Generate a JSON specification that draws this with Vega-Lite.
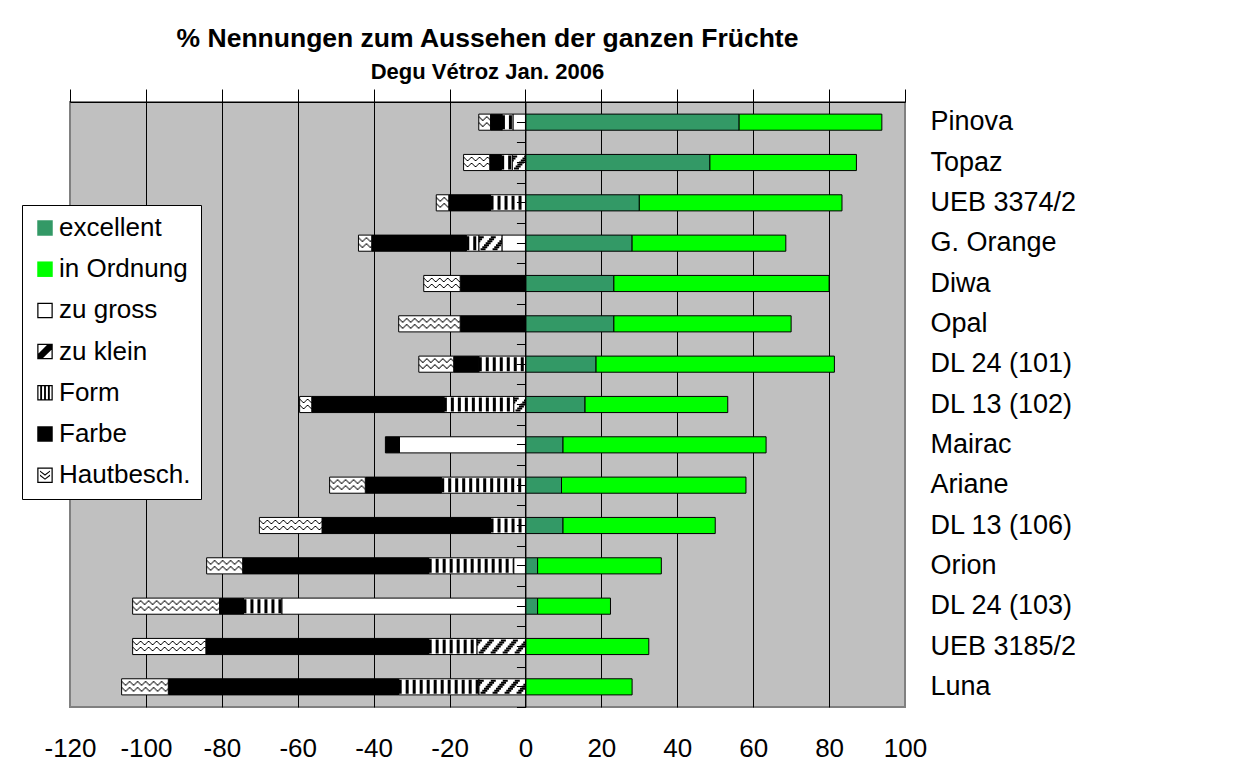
{
  "$schema": "https://vega.github.io/schema/vega-lite/v6.json",
  "width": 835,
  "height": 605,
  "autosize": "none",
  "padding": {"left": 70, "top": 102, "right": 335, "bottom": 69},
  "background": "white",
  "config": {
    "font": "Liberation Sans",
    "view": {"fill": "#C0C0C0", "stroke": "#808080", "strokeWidth": 2}
  },
  "title": {
    "text": "% Nennungen zum Aussehen der ganzen Früchte",
    "subtitle": "Degu Vétroz Jan. 2006",
    "anchor": "middle",
    "frame": "group",
    "font": "Liberation Sans",
    "fontSize": 26.5,
    "fontWeight": "bold",
    "color": "black",
    "subtitleFont": "Liberation Sans",
    "subtitleFontSize": 22,
    "subtitleFontWeight": "bold",
    "subtitleColor": "black",
    "subtitlePadding": 9,
    "offset": 6
  },
  "data": {
    "values": [
      {"variety": "Pinova", "type": "excellent", "o": 1, "v": 56.3},
      {"variety": "Pinova", "type": "in Ordnung", "o": 2, "v": 37.6},
      {"variety": "Pinova", "type": "zu gross", "o": 3, "v": -3.3},
      {"variety": "Pinova", "type": "Form", "o": 5, "v": -2.9},
      {"variety": "Pinova", "type": "Farbe", "o": 6, "v": -3.0},
      {"variety": "Pinova", "type": "Hautbesch.", "o": 7, "v": -3.1},
      {"variety": "Topaz", "type": "excellent", "o": 1, "v": 48.6},
      {"variety": "Topaz", "type": "in Ordnung", "o": 2, "v": 38.6},
      {"variety": "Topaz", "type": "zu klein", "o": 4, "v": -3.5},
      {"variety": "Topaz", "type": "Form", "o": 5, "v": -2.9},
      {"variety": "Topaz", "type": "Farbe", "o": 6, "v": -3.0},
      {"variety": "Topaz", "type": "Hautbesch.", "o": 7, "v": -6.9},
      {"variety": "UEB 3374/2", "type": "excellent", "o": 1, "v": 30.0},
      {"variety": "UEB 3374/2", "type": "in Ordnung", "o": 2, "v": 53.4},
      {"variety": "UEB 3374/2", "type": "Form", "o": 5, "v": -9.2},
      {"variety": "UEB 3374/2", "type": "Farbe", "o": 6, "v": -11.0},
      {"variety": "UEB 3374/2", "type": "Hautbesch.", "o": 7, "v": -3.3},
      {"variety": "G. Orange", "type": "excellent", "o": 1, "v": 28.1},
      {"variety": "G. Orange", "type": "in Ordnung", "o": 2, "v": 40.5},
      {"variety": "G. Orange", "type": "zu gross", "o": 3, "v": -6.2},
      {"variety": "G. Orange", "type": "zu klein", "o": 4, "v": -6.1},
      {"variety": "G. Orange", "type": "Form", "o": 5, "v": -3.3},
      {"variety": "G. Orange", "type": "Farbe", "o": 6, "v": -24.9},
      {"variety": "G. Orange", "type": "Hautbesch.", "o": 7, "v": -3.5},
      {"variety": "Diwa", "type": "excellent", "o": 1, "v": 23.3},
      {"variety": "Diwa", "type": "in Ordnung", "o": 2, "v": 56.7},
      {"variety": "Diwa", "type": "Farbe", "o": 6, "v": -17.2},
      {"variety": "Diwa", "type": "Hautbesch.", "o": 7, "v": -9.6},
      {"variety": "Opal", "type": "excellent", "o": 1, "v": 23.3},
      {"variety": "Opal", "type": "in Ordnung", "o": 2, "v": 46.7},
      {"variety": "Opal", "type": "Farbe", "o": 6, "v": -17.2},
      {"variety": "Opal", "type": "Hautbesch.", "o": 7, "v": -16.2},
      {"variety": "DL 24 (101)", "type": "excellent", "o": 1, "v": 18.6},
      {"variety": "DL 24 (101)", "type": "in Ordnung", "o": 2, "v": 62.8},
      {"variety": "DL 24 (101)", "type": "Form", "o": 5, "v": -12.3},
      {"variety": "DL 24 (101)", "type": "Farbe", "o": 6, "v": -6.6},
      {"variety": "DL 24 (101)", "type": "Hautbesch.", "o": 7, "v": -9.2},
      {"variety": "DL 13 (102)", "type": "excellent", "o": 1, "v": 15.7},
      {"variety": "DL 13 (102)", "type": "in Ordnung", "o": 2, "v": 37.6},
      {"variety": "DL 13 (102)", "type": "zu klein", "o": 4, "v": -3.1},
      {"variety": "DL 13 (102)", "type": "Form", "o": 5, "v": -18.4},
      {"variety": "DL 13 (102)", "type": "Farbe", "o": 6, "v": -34.8},
      {"variety": "DL 13 (102)", "type": "Hautbesch.", "o": 7, "v": -3.2},
      {"variety": "Mairac", "type": "excellent", "o": 1, "v": 9.9},
      {"variety": "Mairac", "type": "in Ordnung", "o": 2, "v": 53.5},
      {"variety": "Mairac", "type": "zu gross", "o": 3, "v": -33.2},
      {"variety": "Mairac", "type": "Farbe", "o": 6, "v": -3.7},
      {"variety": "Ariane", "type": "excellent", "o": 1, "v": 9.5},
      {"variety": "Ariane", "type": "in Ordnung", "o": 2, "v": 48.6},
      {"variety": "Ariane", "type": "Form", "o": 5, "v": -22.2},
      {"variety": "Ariane", "type": "Farbe", "o": 6, "v": -20.0},
      {"variety": "Ariane", "type": "Hautbesch.", "o": 7, "v": -9.4},
      {"variety": "DL 13 (106)", "type": "excellent", "o": 1, "v": 9.9},
      {"variety": "DL 13 (106)", "type": "in Ordnung", "o": 2, "v": 40.1},
      {"variety": "DL 13 (106)", "type": "Form", "o": 5, "v": -9.2},
      {"variety": "DL 13 (106)", "type": "Farbe", "o": 6, "v": -44.4},
      {"variety": "DL 13 (106)", "type": "Hautbesch.", "o": 7, "v": -16.5},
      {"variety": "Orion", "type": "excellent", "o": 1, "v": 3.2},
      {"variety": "Orion", "type": "in Ordnung", "o": 2, "v": 32.6},
      {"variety": "Orion", "type": "zu gross", "o": 3, "v": -3.1},
      {"variety": "Orion", "type": "Form", "o": 5, "v": -22.4},
      {"variety": "Orion", "type": "Farbe", "o": 6, "v": -49.0},
      {"variety": "Orion", "type": "Hautbesch.", "o": 7, "v": -9.5},
      {"variety": "DL 24 (103)", "type": "excellent", "o": 1, "v": 3.2},
      {"variety": "DL 24 (103)", "type": "in Ordnung", "o": 2, "v": 19.2},
      {"variety": "DL 24 (103)", "type": "zu gross", "o": 3, "v": -64.2},
      {"variety": "DL 24 (103)", "type": "Form", "o": 5, "v": -10.1},
      {"variety": "DL 24 (103)", "type": "Farbe", "o": 6, "v": -6.3},
      {"variety": "DL 24 (103)", "type": "Hautbesch.", "o": 7, "v": -22.9},
      {"variety": "UEB 3185/2", "type": "in Ordnung", "o": 2, "v": 32.5},
      {"variety": "UEB 3185/2", "type": "zu klein", "o": 4, "v": -12.8},
      {"variety": "UEB 3185/2", "type": "Form", "o": 5, "v": -12.7},
      {"variety": "UEB 3185/2", "type": "Farbe", "o": 6, "v": -58.7},
      {"variety": "UEB 3185/2", "type": "Hautbesch.", "o": 7, "v": -19.3},
      {"variety": "Luna", "type": "in Ordnung", "o": 2, "v": 28.1},
      {"variety": "Luna", "type": "zu klein", "o": 4, "v": -12.3},
      {"variety": "Luna", "type": "Form", "o": 5, "v": -21.1},
      {"variety": "Luna", "type": "Farbe", "o": 6, "v": -60.7},
      {"variety": "Luna", "type": "Hautbesch.", "o": 7, "v": -12.3}
    ]
  },
  "transform": [
    {"stack": "v", "groupby": ["variety"], "sort": [{"field": "o", "order": "ascending"}], "as": ["s0", "s1"], "offset": "zero"}
  ],
  "encoding": {
    "x": {"field": "s1", "type": "quantitative", "axis": null},
    "x2": {"field": "s0"},
    "y": {"field": "variety", "type": "nominal", "axis": null}
  },
  "layer": [
    {
      "mark": {"type": "bar", "stroke": "black", "strokeWidth": 1, "height": {"band": 0.4}},
      "encoding": {
        "x": {
          "field": "s1", "type": "quantitative",
          "scale": {"domain": [-120, 100], "nice": false, "zero": false},
          "axis": {
            "orient": "top", "title": null, "labels": false,
            "values": [-120, -100, -80, -60, -40, -20, 0, 20, 40, 60, 80, 100],
            "ticks": true, "tickSize": 13, "tickColor": "black", "tickWidth": 1,
            "domain": true, "domainColor": "black", "domainWidth": 1,
            "grid": true, "gridWidth": 1,
            "gridColor": {"condition": {"test": "datum.value === -120 || datum.value === 100", "value": "#808080"}, "value": "black"}
          }
        },
        "x2": {"field": "s0"},
        "y": {
          "field": "variety", "type": "nominal",
          "scale": {
            "domain": ["Pinova", "Topaz", "UEB 3374/2", "G. Orange", "Diwa", "Opal", "DL 24 (101)", "DL 13 (102)", "Mairac", "Ariane", "DL 13 (106)", "Orion", "DL 24 (103)", "UEB 3185/2", "Luna"],
            "paddingInner": 0, "paddingOuter": 0
          },
          "axis": {
            "orient": "left", "offset": -455.45, "title": null, "labels": false,
            "ticks": true, "tickBand": "extent", "tickSize": 9, "tickColor": "black", "tickWidth": 1,
            "domain": true, "domainColor": "black", "domainWidth": 1, "grid": false, "zindex": 1
          }
        },
        "fill": {
          "field": "type", "type": "nominal",
          "scale": {
            "domain": ["excellent", "in Ordnung", "zu gross", "zu klein", "Form", "Farbe", "Hautbesch."],
            "range": ["#339966", "#00FF00", "#FFFFFF", "#FFFFFF", "#FFFFFF", "#000000", "#FFFFFF"]
          },
          "legend": null
        }
      }
    },
    {
      "transform": [{"filter": "datum.o > 100"}],
      "mark": {"type": "point", "filled": true, "stroke": "black", "strokeWidth": 1, "opacity": 1},
      "encoding": {
        "fill": {
          "field": "type", "type": "nominal",
          "scale": {
            "domain": ["excellent", "in Ordnung", "zu gross", "zu klein", "Form", "Farbe", "Hautbesch."],
            "range": ["#339966", "#00FF00", "#000000", "#000000", "#000000", "#000000", "#000000"]
          },
          "legend": {
            "orient": "none", "legendX": -48, "legendY": 103, "title": null,
            "fillColor": "white", "strokeColor": "black", "padding": 10, "rowPadding": 15.2,
            "labelFont": "Liberation Sans", "labelFontSize": 26, "labelColor": "black", "labelOffset": 1,
            "symbolSize": 240, "symbolStrokeColor": "black", "symbolStrokeWidth": 1
          }
        },
        "shape": {
          "field": "type", "type": "nominal",
          "scale": {
            "domain": ["excellent", "in Ordnung", "zu gross", "zu klein", "Form", "Farbe", "Hautbesch."],
            "range": [
              "square", "square",
              "M-1,-1H1V1H-1Z M-0.84,-0.84V0.84H0.84V-0.84Z",
              "M-1,-1H1V1H-1Z M-0.84,-0.84V0.84H0.84V-0.84Z M-0.84,0.84L-0.84,0.25L0.25,-0.84L0.84,-0.84L0.84,-0.25L-0.25,0.84Z",
              "M-1,-1H1V1H-1Z M-0.84,-0.84V0.84H0.84V-0.84Z M-0.62,-0.84H-0.38V0.84H-0.62Z M-0.12,-0.84H0.12V0.84H-0.12Z M0.38,-0.84H0.62V0.84H0.38Z",
              "square",
              "M-1,-1H1V1H-1Z M-0.84,-0.84V0.84H0.84V-0.84Z M-0.65,-0.62L0,-0.12L0.65,-0.62L0.65,-0.44L0,0.06L-0.65,-0.44Z M-0.65,-0.08L0,0.42L0.65,-0.08L0.65,0.1L0,0.6L-0.65,0.1Z"
            ]
          },
          "legend": {
            "orient": "none", "legendX": -48, "legendY": 103, "title": null,
            "fillColor": "white", "strokeColor": "black", "padding": 10, "rowPadding": 15.2,
            "labelFont": "Liberation Sans", "labelFontSize": 26, "labelColor": "black", "labelOffset": 1,
            "symbolSize": 240, "symbolStrokeColor": "black", "symbolStrokeWidth": 1
          }
        }
      }
    },
    {
      "transform": [{"filter": "datum.type === 'Form'"}],
      "mark": {"type": "rule", "color": "black", "strokeWidth": 14, "strokeDash": [3, 4]},
      "encoding": {
        "x": {
          "field": "s1", "type": "quantitative",
          "axis": {
            "orient": "bottom", "title": null, "domain": false, "ticks": false, "grid": false,
            "values": [-120, -100, -80, -60, -40, -20, 0, 20, 40, 60, 80, 100],
            "labelFont": "Liberation Sans", "labelFontSize": 26, "labelColor": "black", "labelPadding": 28,
            "labelFlush": false, "labelOverlap": false, "labelExpr": "'' + datum.value"
          }
        },
        "x2": {"field": "s0"},
        "y": {
          "field": "variety", "type": "nominal",
          "axis": {
            "orient": "right", "title": null, "domain": false, "ticks": false, "grid": false,
            "labelFont": "Liberation Sans", "labelFontSize": 27, "labelColor": "black", "labelPadding": 25,
            "labelAlign": "left", "labelOverlap": false
          }
        }
      }
    },
    {
      "transform": [{"filter": "datum.type === 'zu klein'"}],
      "mark": {"type": "rule", "color": "black", "strokeWidth": 2, "strokeDash": [5, 7], "strokeDashOffset": 0, "yOffset": -6},
      "encoding": {
        "x": {"field": "s1", "type": "quantitative", "axis": null},
        "x2": {"field": "s0"},
        "y": {
          "field": "variety", "type": "nominal",
          "axis": {
            "orient": "left", "offset": -455.45, "title": null, "labels": false, "domain": false, "grid": false,
            "ticks": true, "tickBand": "center", "tickSize": 9, "tickColor": "black", "tickWidth": 1, "zindex": 1
          }
        }
      }
    },
    {"transform": [{"filter": "datum.type === 'zu klein'"}], "mark": {"type": "rule", "color": "black", "strokeWidth": 2, "strokeDash": [5, 7], "strokeDashOffset": 1.7, "yOffset": -4}},
    {"transform": [{"filter": "datum.type === 'zu klein'"}], "mark": {"type": "rule", "color": "black", "strokeWidth": 2, "strokeDash": [5, 7], "strokeDashOffset": 3.4, "yOffset": -2}},
    {"transform": [{"filter": "datum.type === 'zu klein'"}], "mark": {"type": "rule", "color": "black", "strokeWidth": 2, "strokeDash": [5, 7], "strokeDashOffset": 5.1, "yOffset": 0}},
    {"transform": [{"filter": "datum.type === 'zu klein'"}], "mark": {"type": "rule", "color": "black", "strokeWidth": 2, "strokeDash": [5, 7], "strokeDashOffset": 6.8, "yOffset": 2}},
    {"transform": [{"filter": "datum.type === 'zu klein'"}], "mark": {"type": "rule", "color": "black", "strokeWidth": 2, "strokeDash": [5, 7], "strokeDashOffset": 8.5, "yOffset": 4}},
    {"transform": [{"filter": "datum.type === 'zu klein'"}], "mark": {"type": "rule", "color": "black", "strokeWidth": 2, "strokeDash": [5, 7], "strokeDashOffset": 10.2, "yOffset": 6}},
    {"transform": [{"filter": "datum.type === 'Hautbesch.'"}], "mark": {"type": "rule", "color": "black", "strokeWidth": 1.2, "strokeDash": [2, 6], "strokeDashOffset": 1, "yOffset": -5}},
    {"transform": [{"filter": "datum.type === 'Hautbesch.'"}], "mark": {"type": "rule", "color": "black", "strokeWidth": 1.2, "strokeDash": [1, 4, 1, 2], "strokeDashOffset": 7, "yOffset": -4}},
    {"transform": [{"filter": "datum.type === 'Hautbesch.'"}], "mark": {"type": "rule", "color": "black", "strokeWidth": 1.2, "strokeDash": [1, 2, 1, 4], "strokeDashOffset": 6, "yOffset": -3}},
    {"transform": [{"filter": "datum.type === 'Hautbesch.'"}], "mark": {"type": "rule", "color": "black", "strokeWidth": 1.2, "strokeDash": [2, 6], "strokeDashOffset": 5, "yOffset": -2}},
    {"transform": [{"filter": "datum.type === 'Hautbesch.'"}], "mark": {"type": "rule", "color": "black", "strokeWidth": 1.2, "strokeDash": [2, 6], "strokeDashOffset": 1, "yOffset": 1}},
    {"transform": [{"filter": "datum.type === 'Hautbesch.'"}], "mark": {"type": "rule", "color": "black", "strokeWidth": 1.2, "strokeDash": [1, 4, 1, 2], "strokeDashOffset": 7, "yOffset": 2}},
    {"transform": [{"filter": "datum.type === 'Hautbesch.'"}], "mark": {"type": "rule", "color": "black", "strokeWidth": 1.2, "strokeDash": [1, 2, 1, 4], "strokeDashOffset": 6, "yOffset": 3}},
    {"transform": [{"filter": "datum.type === 'Hautbesch.'"}], "mark": {"type": "rule", "color": "black", "strokeWidth": 1.2, "strokeDash": [2, 6], "strokeDashOffset": 5, "yOffset": 4}}
  ],
  "resolve": {"axis": {"x": "independent", "y": "independent"}, "scale": {"fill": "independent", "shape": "independent"}}
}
